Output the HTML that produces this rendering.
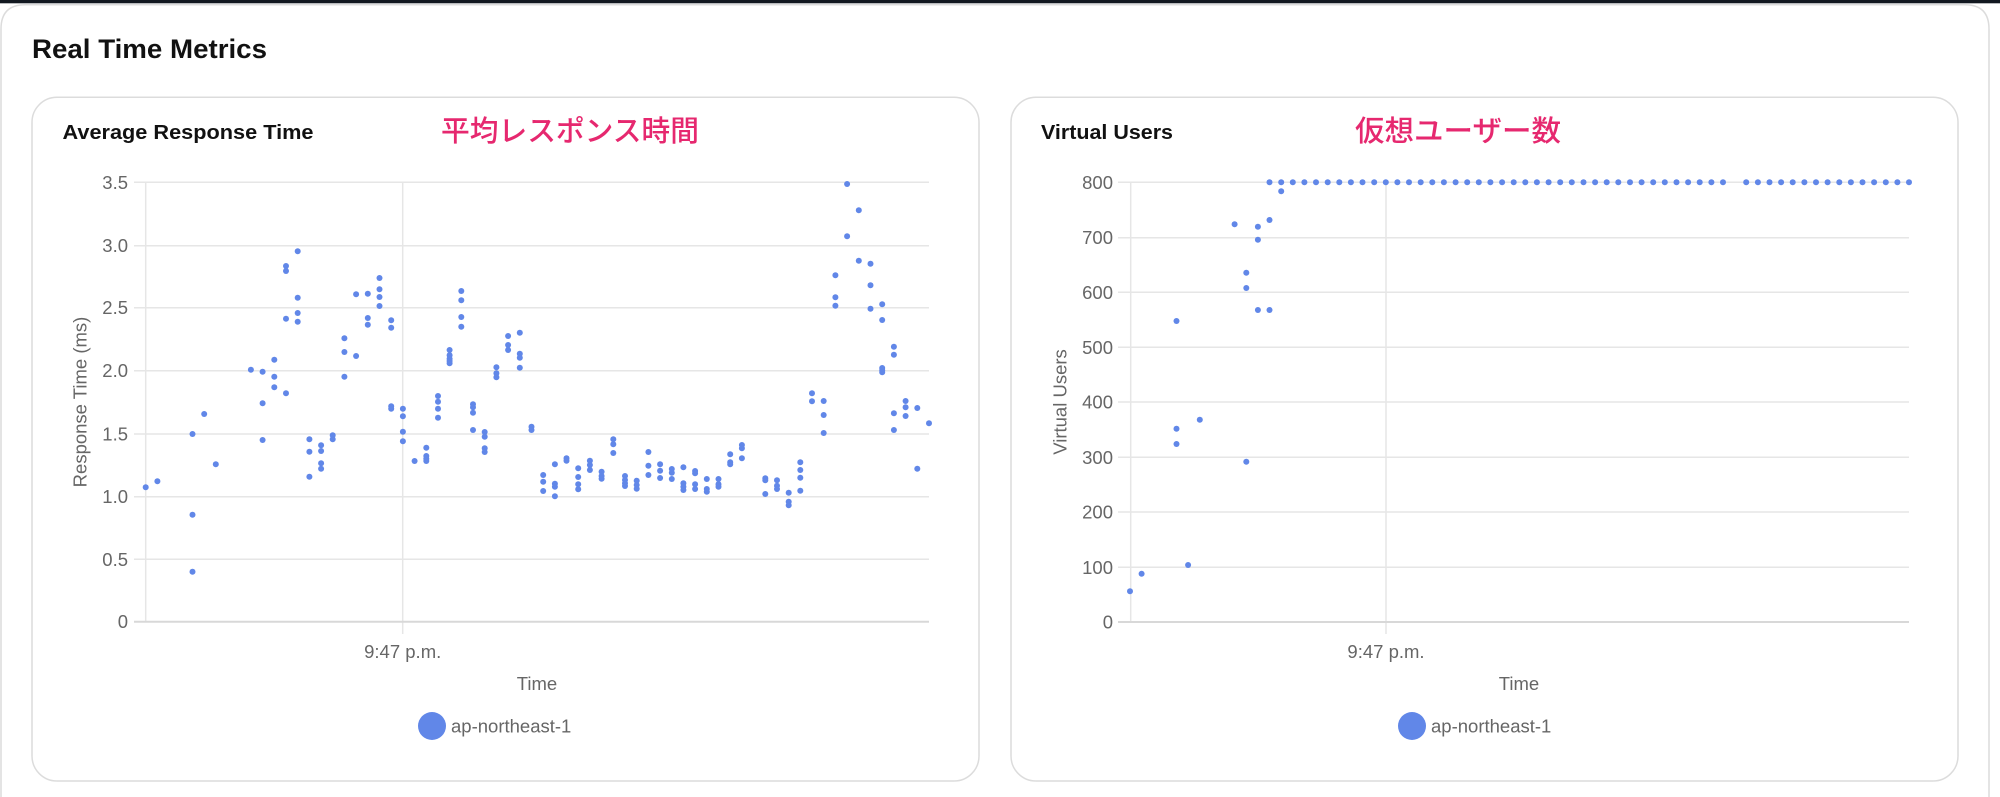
<!DOCTYPE html>
<html><head><meta charset="utf-8"><style>
html,body{margin:0;padding:0;background:#fff;width:2000px;height:797px;overflow:hidden}
svg{display:block}
text{font-family:"Liberation Sans","Noto Sans CJK JP",sans-serif}
.t{fill:#666;font-size:18.5px}
.jp{fill:#e6286f;font-size:29px;font-weight:500;font-family:"Liberation Sans","Noto Sans CJK JP",sans-serif}
</style></head><body>
<svg width="2000" height="797" viewBox="0 0 2000 797" xmlns="http://www.w3.org/2000/svg">
<rect x="0" y="0" width="2000" height="797" fill="#fff"/>
<rect x="0" y="0" width="2000" height="3.3" fill="#121820"/>
<path d="M1 820 V29 Q1 4.7 25 4.7 H1965 Q1989 4.7 1989 29 V820" fill="none" stroke="#dcdcdc" stroke-width="1.5"/>
<text x="32" y="58" font-size="26.5" font-weight="bold" fill="#111" textLength="235" lengthAdjust="spacingAndGlyphs">Real Time Metrics</text>

<!-- cards -->
<rect x="32" y="97.3" width="947" height="683.7" rx="25" ry="25" fill="#fff" stroke="#dcdcdc" stroke-width="1.5"/>
<rect x="1011" y="97.3" width="947" height="683.7" rx="25" ry="25" fill="#fff" stroke="#dcdcdc" stroke-width="1.5"/>

<text x="62.5" y="139" font-size="20" font-weight="bold" fill="#111" textLength="251" lengthAdjust="spacingAndGlyphs">Average Response Time</text>
<text x="1041" y="139" font-size="20" font-weight="bold" fill="#111" textLength="132" lengthAdjust="spacingAndGlyphs">Virtual Users</text>
<text class="jp" x="441" y="141" textLength="258" lengthAdjust="spacingAndGlyphs">平均レスポンス時間</text>
<text class="jp" x="1355" y="141" textLength="206" lengthAdjust="spacingAndGlyphs">仮想ユーザー数</text>

<!-- left chart grid -->
<g stroke="#e6e6e6" stroke-width="1.5">
<line x1="134" y1="182.3" x2="929" y2="182.3"/>
<line x1="134" y1="245.7" x2="929" y2="245.7"/>
<line x1="134" y1="307.7" x2="929" y2="307.7"/>
<line x1="134" y1="370.7" x2="929" y2="370.7"/>
<line x1="134" y1="434" x2="929" y2="434"/>
<line x1="134" y1="496.7" x2="929" y2="496.7"/>
<line x1="134" y1="559.3" x2="929" y2="559.3"/>
<line x1="145.7" y1="182.3" x2="145.7" y2="622"/>
<line x1="402.7" y1="182.3" x2="402.7" y2="634"/>
</g>
<line x1="134" y1="621.7" x2="929" y2="621.7" stroke="#d8d8d8" stroke-width="2"/>
<g class="t" text-anchor="end">
<text x="128" y="188.8">3.5</text>
<text x="128" y="252.2">3.0</text>
<text x="128" y="314.2">2.5</text>
<text x="128" y="377.2">2.0</text>
<text x="128" y="440.5">1.5</text>
<text x="128" y="503.2">1.0</text>
<text x="128" y="565.8">0.5</text>
<text x="128" y="628.2">0</text>
</g>
<text class="t" x="402.7" y="658" text-anchor="middle">9:47 p.m.</text>
<text class="t" x="537" y="690" text-anchor="middle">Time</text>
<text class="t" transform="translate(86.5,402) rotate(-90)" text-anchor="middle">Response Time (ms)</text>
<circle cx="432" cy="726" r="14" fill="#6187e8"/>
<text class="t" x="451" y="732.5">ap-northeast-1</text>

<!-- right chart grid -->
<g stroke="#e6e6e6" stroke-width="1.5">
<line x1="1118" y1="182.3" x2="1909" y2="182.3"/>
<line x1="1118" y1="237.7" x2="1909" y2="237.7"/>
<line x1="1118" y1="292.3" x2="1909" y2="292.3"/>
<line x1="1118" y1="347.3" x2="1909" y2="347.3"/>
<line x1="1118" y1="402" x2="1909" y2="402"/>
<line x1="1118" y1="457.3" x2="1909" y2="457.3"/>
<line x1="1118" y1="512" x2="1909" y2="512"/>
<line x1="1118" y1="567.3" x2="1909" y2="567.3"/>
<line x1="1130.7" y1="182.3" x2="1130.7" y2="622"/>
<line x1="1386" y1="182.3" x2="1386" y2="634"/>
</g>
<line x1="1118" y1="622" x2="1909" y2="622" stroke="#d8d8d8" stroke-width="2"/>
<g class="t" text-anchor="end">
<text x="1113" y="188.8">800</text>
<text x="1113" y="244.2">700</text>
<text x="1113" y="298.8">600</text>
<text x="1113" y="353.8">500</text>
<text x="1113" y="408.5">400</text>
<text x="1113" y="463.8">300</text>
<text x="1113" y="518.5">200</text>
<text x="1113" y="573.8">100</text>
<text x="1113" y="628.5">0</text>
</g>
<text class="t" x="1386" y="658" text-anchor="middle">9:47 p.m.</text>
<text class="t" x="1519" y="690" text-anchor="middle">Time</text>
<text class="t" transform="translate(1066.5,402) rotate(-90)" text-anchor="middle">Virtual Users</text>
<circle cx="1412" cy="726" r="14" fill="#6187e8"/>
<text class="t" x="1431" y="732.5">ap-northeast-1</text>

<!-- left data -->
<g fill="#6187e8">
<circle cx="145.7" cy="487.3" r="3"/>
<circle cx="157.4" cy="481.3" r="3"/>
<circle cx="192.5" cy="434" r="3"/><circle cx="192.5" cy="514.7" r="3"/><circle cx="192.5" cy="571.7" r="3"/>
<circle cx="204.2" cy="414" r="3"/>
<circle cx="215.8" cy="464.3" r="3"/>
<circle cx="250.9" cy="369.7" r="3"/>
<circle cx="262.6" cy="371.7" r="3"/><circle cx="262.6" cy="403.3" r="3"/><circle cx="262.6" cy="440" r="3"/>
<circle cx="274.3" cy="359.7" r="3"/><circle cx="274.3" cy="376.7" r="3"/><circle cx="274.3" cy="387.3" r="3"/>
<circle cx="286" cy="266" r="3"/><circle cx="286" cy="271" r="3"/><circle cx="286" cy="318.7" r="3"/><circle cx="286" cy="393.3" r="3"/>
<circle cx="297.7" cy="251.3" r="3"/><circle cx="297.7" cy="297.7" r="3"/><circle cx="297.7" cy="313" r="3"/><circle cx="297.7" cy="321.7" r="3"/>
<circle cx="309.4" cy="439.3" r="3"/><circle cx="309.4" cy="451.7" r="3"/><circle cx="309.4" cy="476.7" r="3"/>
<circle cx="321.1" cy="445.3" r="3"/><circle cx="321.1" cy="451" r="3"/><circle cx="321.1" cy="463.3" r="3"/><circle cx="321.1" cy="468.7" r="3"/>
<circle cx="332.7" cy="435.3" r="3"/><circle cx="332.7" cy="439.3" r="3"/>
<circle cx="344.4" cy="338.3" r="3"/><circle cx="344.4" cy="352" r="3"/><circle cx="344.4" cy="376.7" r="3"/>
<circle cx="356.1" cy="294.3" r="3"/><circle cx="356.1" cy="356" r="3"/>
<circle cx="367.8" cy="293.7" r="3"/><circle cx="367.8" cy="318" r="3"/><circle cx="367.8" cy="324.7" r="3"/>
<circle cx="379.5" cy="278" r="3"/><circle cx="379.5" cy="289.3" r="3"/><circle cx="379.5" cy="297" r="3"/><circle cx="379.5" cy="306" r="3"/>
<circle cx="391.2" cy="320.3" r="3"/><circle cx="391.2" cy="327.7" r="3"/><circle cx="391.2" cy="406.3" r="3"/><circle cx="391.2" cy="408.7" r="3"/>
<circle cx="402.9" cy="408.7" r="3"/><circle cx="402.9" cy="416.3" r="3"/><circle cx="402.9" cy="431.7" r="3"/><circle cx="402.9" cy="441.3" r="3"/>
<circle cx="414.6" cy="461" r="3"/>
<circle cx="426.3" cy="447.7" r="3"/><circle cx="426.3" cy="456" r="3"/><circle cx="426.3" cy="458.7" r="3"/><circle cx="426.3" cy="461" r="3"/>
<circle cx="438" cy="396" r="3"/><circle cx="438" cy="401.7" r="3"/><circle cx="438" cy="408.7" r="3"/><circle cx="438" cy="417.7" r="3"/>
<circle cx="449.6" cy="350" r="3"/><circle cx="449.6" cy="355.3" r="3"/><circle cx="449.6" cy="358.7" r="3"/><circle cx="449.6" cy="361" r="3"/><circle cx="449.6" cy="363.3" r="3"/>
<circle cx="461.3" cy="291" r="3"/><circle cx="461.3" cy="300.3" r="3"/><circle cx="461.3" cy="317" r="3"/><circle cx="461.3" cy="326.7" r="3"/>
<circle cx="473" cy="404.3" r="3"/><circle cx="473" cy="407.3" r="3"/><circle cx="473" cy="412.7" r="3"/><circle cx="473" cy="430" r="3"/>
<circle cx="484.7" cy="432" r="3"/><circle cx="484.7" cy="436.7" r="3"/><circle cx="484.7" cy="448.3" r="3"/><circle cx="484.7" cy="452" r="3"/>
<circle cx="496.4" cy="367.3" r="3"/><circle cx="496.4" cy="373.3" r="3"/><circle cx="496.4" cy="377.3" r="3"/>
<circle cx="508.1" cy="336" r="3"/><circle cx="508.1" cy="345" r="3"/><circle cx="508.1" cy="350" r="3"/>
<circle cx="519.8" cy="332.7" r="3"/><circle cx="519.8" cy="353.7" r="3"/><circle cx="519.8" cy="357.7" r="3"/><circle cx="519.8" cy="367.7" r="3"/>
<circle cx="531.5" cy="426.7" r="3"/><circle cx="531.5" cy="430" r="3"/>
<circle cx="543.2" cy="475" r="3"/><circle cx="543.2" cy="481.7" r="3"/><circle cx="543.2" cy="491" r="3"/>
<circle cx="554.9" cy="464.3" r="3"/><circle cx="554.9" cy="483.7" r="3"/><circle cx="554.9" cy="486.7" r="3"/><circle cx="554.9" cy="496.3" r="3"/>
<circle cx="566.5" cy="458.3" r="3"/><circle cx="566.5" cy="460.7" r="3"/>
<circle cx="578.2" cy="468.3" r="3"/><circle cx="578.2" cy="477" r="3"/><circle cx="578.2" cy="484.3" r="3"/><circle cx="578.2" cy="489.3" r="3"/>
<circle cx="589.9" cy="460.7" r="3"/><circle cx="589.9" cy="465" r="3"/><circle cx="589.9" cy="470" r="3"/>
<circle cx="601.6" cy="471.7" r="3"/><circle cx="601.6" cy="476" r="3"/><circle cx="601.6" cy="478.7" r="3"/>
<circle cx="613.3" cy="439.3" r="3"/><circle cx="613.3" cy="444.3" r="3"/><circle cx="613.3" cy="453" r="3"/>
<circle cx="625" cy="476" r="3"/><circle cx="625" cy="480" r="3"/><circle cx="625" cy="483.3" r="3"/><circle cx="625" cy="486" r="3"/>
<circle cx="636.7" cy="480.7" r="3"/><circle cx="636.7" cy="485" r="3"/><circle cx="636.7" cy="488.7" r="3"/>
<circle cx="648.4" cy="452" r="3"/><circle cx="648.4" cy="465.7" r="3"/><circle cx="648.4" cy="475" r="3"/>
<circle cx="660.1" cy="464.3" r="3"/><circle cx="660.1" cy="470.7" r="3"/><circle cx="660.1" cy="478" r="3"/>
<circle cx="671.8" cy="469" r="3"/><circle cx="671.8" cy="472.7" r="3"/><circle cx="671.8" cy="479" r="3"/>
<circle cx="683.4" cy="467.3" r="3"/><circle cx="683.4" cy="483.3" r="3"/><circle cx="683.4" cy="486.7" r="3"/><circle cx="683.4" cy="490" r="3"/>
<circle cx="695.1" cy="471" r="3"/><circle cx="695.1" cy="473.3" r="3"/><circle cx="695.1" cy="484.3" r="3"/><circle cx="695.1" cy="489" r="3"/>
<circle cx="706.8" cy="479" r="3"/><circle cx="706.8" cy="489" r="3"/><circle cx="706.8" cy="491.7" r="3"/>
<circle cx="718.5" cy="479" r="3"/><circle cx="718.5" cy="484.3" r="3"/><circle cx="718.5" cy="486.7" r="3"/>
<circle cx="730.2" cy="454.3" r="3"/><circle cx="730.2" cy="462.3" r="3"/><circle cx="730.2" cy="464.3" r="3"/>
<circle cx="741.9" cy="445" r="3"/><circle cx="741.9" cy="448.3" r="3"/><circle cx="741.9" cy="458.3" r="3"/>
<circle cx="765.3" cy="478.3" r="3"/><circle cx="765.3" cy="480.3" r="3"/><circle cx="765.3" cy="494" r="3"/>
<circle cx="777" cy="480.3" r="3"/><circle cx="777" cy="485.7" r="3"/><circle cx="777" cy="489" r="3"/>
<circle cx="788.7" cy="492.7" r="3"/><circle cx="788.7" cy="501.7" r="3"/><circle cx="788.7" cy="505.3" r="3"/>
<circle cx="800.3" cy="462.3" r="3"/><circle cx="800.3" cy="470" r="3"/><circle cx="800.3" cy="477.7" r="3"/><circle cx="800.3" cy="490.7" r="3"/>
<circle cx="812" cy="393.3" r="3"/><circle cx="812" cy="401.3" r="3"/>
<circle cx="823.7" cy="401" r="3"/><circle cx="823.7" cy="415" r="3"/><circle cx="823.7" cy="433" r="3"/>
<circle cx="835.4" cy="275.3" r="3"/><circle cx="835.4" cy="297.3" r="3"/><circle cx="835.4" cy="305.7" r="3"/>
<circle cx="847.1" cy="184" r="3"/><circle cx="847.1" cy="236.3" r="3"/>
<circle cx="858.8" cy="210.3" r="3"/><circle cx="858.8" cy="260.7" r="3"/>
<circle cx="870.5" cy="263.7" r="3"/><circle cx="870.5" cy="285.3" r="3"/><circle cx="870.5" cy="308.7" r="3"/>
<circle cx="882.2" cy="304.3" r="3"/><circle cx="882.2" cy="320" r="3"/><circle cx="882.2" cy="368" r="3"/><circle cx="882.2" cy="370.3" r="3"/><circle cx="882.2" cy="372.3" r="3"/>
<circle cx="893.9" cy="346.7" r="3"/><circle cx="893.9" cy="354.7" r="3"/><circle cx="893.9" cy="413.3" r="3"/><circle cx="893.9" cy="430" r="3"/>
<circle cx="905.6" cy="401" r="3"/><circle cx="905.6" cy="407.3" r="3"/><circle cx="905.6" cy="416" r="3"/>
<circle cx="917.3" cy="408" r="3"/><circle cx="917.3" cy="468.7" r="3"/>
<circle cx="929" cy="423.3" r="3"/>
</g>

<!-- right data -->
<g fill="#6187e8">
<circle cx="1130" cy="591.3" r="3"/>
<circle cx="1141.6" cy="573.7" r="3"/>
<circle cx="1176.5" cy="321" r="3"/><circle cx="1176.5" cy="428.7" r="3"/><circle cx="1176.5" cy="444" r="3"/>
<circle cx="1188.1" cy="565" r="3"/>
<circle cx="1199.8" cy="419.7" r="3"/>
<circle cx="1234.6" cy="224.3" r="3"/>
<circle cx="1246.3" cy="272.7" r="3"/><circle cx="1246.3" cy="288" r="3"/><circle cx="1246.3" cy="461.7" r="3"/>
<circle cx="1257.9" cy="226.7" r="3"/><circle cx="1257.9" cy="239.7" r="3"/><circle cx="1257.9" cy="310" r="3"/>
<circle cx="1269.5" cy="182.3" r="3"/><circle cx="1269.5" cy="220" r="3"/><circle cx="1269.5" cy="310" r="3"/>
<circle cx="1281.2" cy="182.3" r="3"/><circle cx="1281.2" cy="191.3" r="3"/>
<circle cx="1292.8" cy="182.3" r="3"/><circle cx="1304.4" cy="182.3" r="3"/><circle cx="1316" cy="182.3" r="3"/><circle cx="1327.7" cy="182.3" r="3"/>
<circle cx="1339.3" cy="182.3" r="3"/><circle cx="1350.9" cy="182.3" r="3"/><circle cx="1362.5" cy="182.3" r="3"/><circle cx="1374.2" cy="182.3" r="3"/>
<circle cx="1385.8" cy="182.3" r="3"/><circle cx="1397.4" cy="182.3" r="3"/><circle cx="1409" cy="182.3" r="3"/><circle cx="1420.7" cy="182.3" r="3"/>
<circle cx="1432.3" cy="182.3" r="3"/><circle cx="1443.9" cy="182.3" r="3"/><circle cx="1455.6" cy="182.3" r="3"/><circle cx="1467.2" cy="182.3" r="3"/>
<circle cx="1478.8" cy="182.3" r="3"/><circle cx="1490.4" cy="182.3" r="3"/><circle cx="1502.1" cy="182.3" r="3"/><circle cx="1513.7" cy="182.3" r="3"/>
<circle cx="1525.3" cy="182.3" r="3"/><circle cx="1536.9" cy="182.3" r="3"/><circle cx="1548.6" cy="182.3" r="3"/><circle cx="1560.2" cy="182.3" r="3"/>
<circle cx="1571.8" cy="182.3" r="3"/><circle cx="1583.5" cy="182.3" r="3"/><circle cx="1595.1" cy="182.3" r="3"/><circle cx="1606.7" cy="182.3" r="3"/>
<circle cx="1618.3" cy="182.3" r="3"/><circle cx="1630" cy="182.3" r="3"/><circle cx="1641.6" cy="182.3" r="3"/><circle cx="1653.2" cy="182.3" r="3"/>
<circle cx="1664.8" cy="182.3" r="3"/><circle cx="1676.5" cy="182.3" r="3"/><circle cx="1688.1" cy="182.3" r="3"/><circle cx="1699.7" cy="182.3" r="3"/>
<circle cx="1711.4" cy="182.3" r="3"/><circle cx="1723" cy="182.3" r="3"/>
<circle cx="1746.2" cy="182.3" r="3"/><circle cx="1757.9" cy="182.3" r="3"/><circle cx="1769.5" cy="182.3" r="3"/><circle cx="1781.1" cy="182.3" r="3"/>
<circle cx="1792.7" cy="182.3" r="3"/><circle cx="1804.4" cy="182.3" r="3"/><circle cx="1816" cy="182.3" r="3"/><circle cx="1827.6" cy="182.3" r="3"/>
<circle cx="1839.3" cy="182.3" r="3"/><circle cx="1850.9" cy="182.3" r="3"/><circle cx="1862.5" cy="182.3" r="3"/><circle cx="1874.1" cy="182.3" r="3"/>
<circle cx="1885.8" cy="182.3" r="3"/><circle cx="1897.4" cy="182.3" r="3"/><circle cx="1909" cy="182.3" r="3"/>
</g>
</svg>
</body></html>
